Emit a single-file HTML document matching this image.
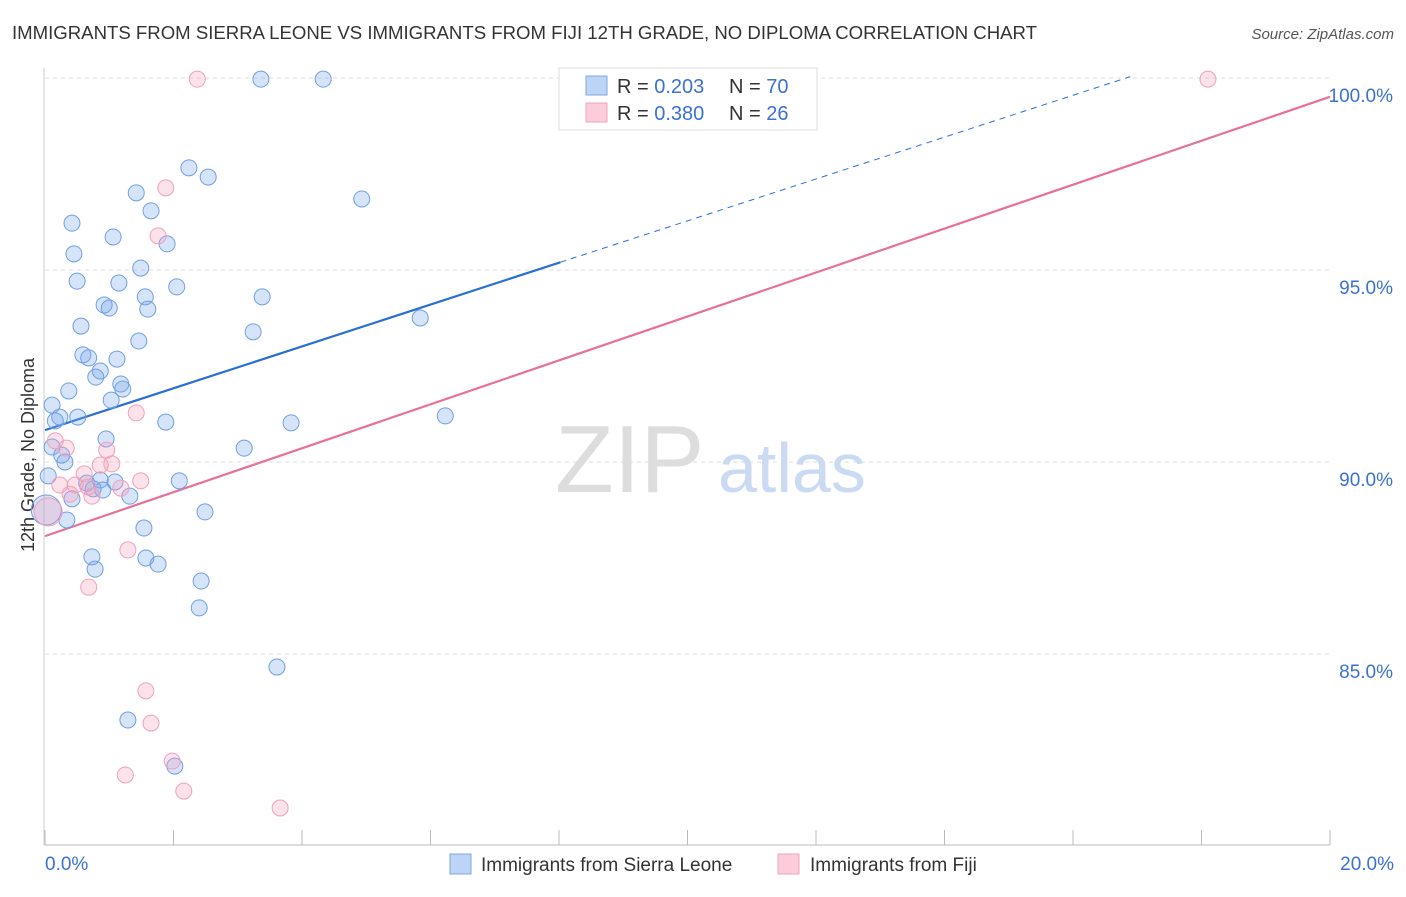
<!DOCTYPE html>
<html><head><meta charset="utf-8">
<style>
body{margin:0;background:#fff;font-family:"Liberation Sans",sans-serif;}
svg text{font-family:"Liberation Sans",sans-serif;}
</style></head>
<body>
<svg id="chart" width="1406" height="892" viewBox="0 0 1406 892">
<text x="12" y="39" font-size="18" fill="#333" textLength="1025" lengthAdjust="spacingAndGlyphs">IMMIGRANTS FROM SIERRA LEONE VS IMMIGRANTS FROM FIJI 12TH GRADE, NO DIPLOMA CORRELATION CHART</text>
<text x="1394" y="39" font-size="15" fill="#555" font-style="italic" text-anchor="end">Source: ZipAtlas.com</text>
<text x="34" y="455" font-size="18" fill="#333" transform="rotate(-90 34 455)" text-anchor="middle">12th Grade, No Diploma</text>
<g id="grid"></g>
<text x="555" y="492" font-size="96" fill="#ddd" font-family="Liberation Serif">ZIP</text>
<text x="718" y="492" font-size="70" fill="#c9daf2">atlas</text>
<g id="lines"></g>
<g id="points"></g>
<g>
<rect x="559" y="68" width="258" height="62" fill="#fff" stroke="#ddd"/>
<rect x="586" y="76" width="21" height="19" fill="#bcd4f5" stroke="#7fa8e0"/>
<rect x="586" y="103" width="21" height="19" fill="#fcccdb" stroke="#f0a3bd"/>
<text x="617" y="93" font-size="20" fill="#333">R = <tspan fill="#3a72d0">0.203</tspan></text>
<text x="729" y="93" font-size="20" fill="#333">N = <tspan fill="#3a72d0">70</tspan></text>
<text x="617" y="120" font-size="20" fill="#333">R = <tspan fill="#3a72d0">0.380</tspan></text>
<text x="729" y="120" font-size="20" fill="#333">N = <tspan fill="#3a72d0">26</tspan></text>
</g>
<g>
<rect x="450" y="854" width="21" height="20" fill="#bcd4f5" stroke="#7fa8e0"/>
<text x="481" y="871" font-size="19" fill="#333">Immigrants from Sierra Leone</text>
<rect x="778" y="854" width="21" height="20" fill="#fcccdb" stroke="#f0a3bd"/>
<text x="810" y="871" font-size="19" fill="#333">Immigrants from Fiji</text>
</g>
</svg>
<script>
const yTicks=[85,90,95,100];
const yTickLabels=["85.0%","90.0%","95.0%","100.0%"];
const xTickVals=[0,2,4,6,8,10,12,14,16,18,20];
const blueX=[3.36,4.33,2.24,2.54,1.42,4.93,1.65,0.42,1.06,1.90,0.45,1.49,0.50,1.15,2.05,1.56,3.38,0.92,1.00,1.60,0.56,3.24,5.84,1.46,0.59,0.68,1.12,0.86,0.79,1.18,1.21,0.37,1.03,0.11,0.23,0.16,0.51,1.88,3.83,6.23,0.95,0.11,3.10,0.26,0.31,0.05,2.09,0.65,0.86,1.09,0.75,0.90,0.42,1.32,2.49,0.34,0.02,1.54,0.73,1.57,0.78,1.76,2.43,2.40,3.61,1.29,2.02];
const blueY=[99.97,99.97,97.66,97.42,97.01,96.85,96.54,96.22,95.86,95.68,95.42,95.05,94.71,94.66,94.56,94.30,94.30,94.09,94.01,93.98,93.54,93.39,93.75,93.15,92.79,92.71,92.68,92.37,92.21,92.03,91.90,91.85,91.61,91.48,91.17,91.07,91.17,91.04,91.02,91.20,90.60,90.39,90.36,90.18,90.00,89.64,89.51,89.45,89.53,89.48,89.30,89.27,89.04,89.11,88.70,88.49,88.75,88.28,87.53,87.50,87.21,87.34,86.90,86.20,84.66,83.28,82.08];
const pinkX=[2.37,18.10,1.88,1.76,1.42,0.16,0.33,0.96,0.86,1.04,0.61,1.49,0.47,0.23,0.67,1.18,0.73,0.39,0.05,1.29,0.68,1.57,1.65,1.98,1.25,2.16,3.66];
const pinkY=[99.97,99.97,97.14,95.89,91.28,90.55,90.36,90.31,89.92,89.95,89.69,89.51,89.40,89.40,89.35,89.32,89.11,89.16,88.70,87.71,86.74,84.04,83.20,82.21,81.85,81.43,80.99];
const blueFit=[90.83,0.545];
const pinkFit=[88.07,0.572];
const NS="http://www.w3.org/2000/svg";
const xPx=v=>45+v*64.25;
const yPx=v=>78+(100-v)*38.4;
function mk(tag,attrs,parent){const e=document.createElementNS(NS,tag);for(const k in attrs)e.setAttribute(k,attrs[k]);parent.appendChild(e);return e;}
const grid=document.getElementById('grid');
yTicks.forEach((t,i)=>{
  const l=mk('line',{x1:45,x2:1330,y1:yPx(t),y2:yPx(t),stroke:'#ddd','stroke-dasharray':'4,4'},grid);
  
  
  const tx=mk('text',{x:1393,y:yPx(t)+24,'font-size':19,fill:'#3a72d0','text-anchor':'end'},grid);
  tx.textContent=yTickLabels[i];
  
  
});
const ax=mk('line',{x1:44,x2:1330,y1:845,y2:845,stroke:'#bbb'},grid);


const ay=mk('line',{x1:44,x2:44,y1:68,y2:845,stroke:'#ccc'},grid);


xTickVals.forEach(t=>{
  const l=mk('line',{x1:xPx(t),x2:xPx(t),y1:830,y2:845,stroke:'#bbb'},grid);
  
  
});
const xl0=mk('text',{x:45,y:870,'font-size':19,fill:'#3a72d0'},grid);xl0.textContent='0.0%';


const xl1=mk('text',{x:1394,y:870,'font-size':19,fill:'#3a72d0','text-anchor':'end'},grid);xl1.textContent='20.0%';


const lines=document.getElementById('lines');
const bEnd=8.02, bDashEnd=16.89;
const b1=mk('line',{x1:xPx(0),y1:yPx(blueFit[0]),x2:xPx(bEnd),y2:yPx(blueFit[0]+blueFit[1]*bEnd),stroke:'#2a6fd6','stroke-width':2.2},lines);


const b2=mk('line',{x1:xPx(bEnd),y1:yPx(blueFit[0]+blueFit[1]*bEnd),x2:xPx(bDashEnd),y2:yPx(blueFit[0]+blueFit[1]*bDashEnd),stroke:'#2a6fd6','stroke-width':1,'stroke-dasharray':'6,5'},lines);


const p1=mk('line',{x1:xPx(0),y1:yPx(pinkFit[0]),x2:xPx(20),y2:yPx(pinkFit[0]+pinkFit[1]*20),stroke:'#e8709a','stroke-width':2.2},lines);


const pts=document.getElementById('points');
blueX.forEach((x,i)=>{
  const r=(i===56)?15:8;
  const c=mk('circle',{cx:xPx(x),cy:yPx(blueY[i]),r:r,fill:'rgba(120,165,235,0.3)',stroke:'#6f9fe3','stroke-width':1},pts);
  
  
});
pinkX.forEach((x,i)=>{
  const r=(i===18)?14:8;
  const c=mk('circle',{cx:xPx(x),cy:yPx(pinkY[i]),r:r,fill:'rgba(245,160,190,0.3)',stroke:'#f0a0bc','stroke-width':1},pts);
  
  
});
</script>
</body></html>
